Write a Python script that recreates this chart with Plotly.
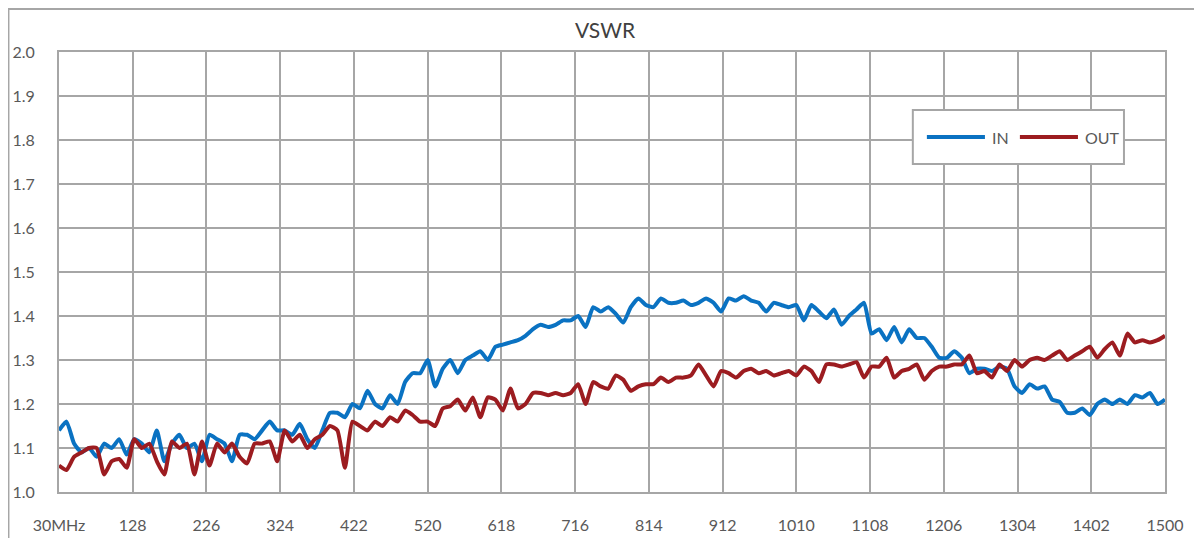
import plotly.graph_objects as go

freq_mhz = list(range(30, 1501, 10))

vswr_in = [
    1.14, 1.16, 1.11, 1.09, 1.10, 1.08, 1.11, 1.10, 1.12, 1.085,
    1.12, 1.11, 1.09, 1.14, 1.07, 1.11, 1.13, 1.10, 1.11, 1.07,
    1.13, 1.12, 1.11, 1.07, 1.13, 1.13, 1.12, 1.14, 1.16, 1.14,
    1.14, 1.13, 1.155, 1.12, 1.10, 1.14, 1.18, 1.18, 1.17, 1.20,
    1.19, 1.23, 1.20, 1.19, 1.22, 1.20, 1.25, 1.27, 1.27, 1.30,
    1.24, 1.28, 1.30, 1.27, 1.30, 1.31, 1.32, 1.30, 1.33, 1.335,
    1.34, 1.345, 1.355, 1.37, 1.38, 1.375, 1.38, 1.39, 1.39, 1.40,
    1.375, 1.42, 1.41, 1.42, 1.405, 1.385, 1.42, 1.44, 1.425, 1.42,
    1.44, 1.43, 1.43, 1.435, 1.425, 1.43, 1.44, 1.43, 1.41, 1.44,
    1.435, 1.445, 1.435, 1.43, 1.41, 1.43, 1.425, 1.42, 1.425, 1.39,
    1.425, 1.41, 1.395, 1.415, 1.38, 1.40, 1.415, 1.43, 1.36, 1.37,
    1.345, 1.375, 1.34, 1.37, 1.35, 1.35, 1.33, 1.305, 1.305, 1.32,
    1.305, 1.27, 1.28, 1.28, 1.275, 1.285, 1.28, 1.24, 1.225, 1.245,
    1.235, 1.24, 1.21, 1.205, 1.18, 1.18, 1.19, 1.175, 1.20, 1.21,
    1.20, 1.21, 1.20, 1.22, 1.215, 1.225, 1.20, 1.21,
]

vswr_out = [
    1.06, 1.05, 1.08, 1.09, 1.10, 1.10, 1.04, 1.07, 1.075, 1.055,
    1.12, 1.10, 1.11, 1.07, 1.04, 1.115, 1.10, 1.11, 1.04, 1.115,
    1.06, 1.11, 1.09, 1.11, 1.08, 1.065, 1.11, 1.11, 1.115, 1.07,
    1.14, 1.115, 1.13, 1.10, 1.12, 1.13, 1.15, 1.14, 1.055, 1.16,
    1.15, 1.14, 1.16, 1.15, 1.17, 1.16, 1.185, 1.175, 1.16, 1.16,
    1.15, 1.19, 1.195, 1.21, 1.185, 1.215, 1.17, 1.215, 1.21, 1.185,
    1.235, 1.19, 1.20, 1.225, 1.225, 1.22, 1.225, 1.22, 1.225, 1.245,
    1.20, 1.25, 1.24, 1.235, 1.265, 1.255, 1.23, 1.24, 1.245, 1.245,
    1.26, 1.25, 1.26, 1.26, 1.265, 1.29, 1.265, 1.24, 1.275, 1.27,
    1.26, 1.275, 1.28, 1.27, 1.275, 1.265, 1.27, 1.275, 1.265, 1.285,
    1.275, 1.25, 1.29, 1.29, 1.285, 1.29, 1.295, 1.26, 1.285, 1.285,
    1.305, 1.26, 1.275, 1.28, 1.29, 1.255, 1.275, 1.285, 1.285, 1.29,
    1.29, 1.31, 1.27, 1.275, 1.26, 1.29, 1.275, 1.30, 1.285, 1.30,
    1.305, 1.30, 1.31, 1.32, 1.30, 1.31, 1.32, 1.33, 1.305, 1.325,
    1.34, 1.31, 1.36, 1.34, 1.345, 1.34, 1.345, 1.355,
]

series_names = ["IN", "OUT"]
series_colors = ["#0A72C2", "#9C1C20"]

tick_vals = [30, 128, 226, 324, 422, 520, 618, 716, 814, 912, 1010, 1108, 1206, 1304, 1402, 1500]
tick_text = ["30MHz"] + [str(v) for v in tick_vals[1:]]

GRID = "#A6A6A6"
TEXT = "#595959"
FONT = "Lato, 'Open Sans', sans-serif"

fig = go.Figure()
for name, ys, col in zip(series_names, [vswr_in, vswr_out], series_colors):
    fig.add_trace(go.Scatter(x=freq_mhz, y=ys, mode="lines", name=name, showlegend=False,
                             line=dict(color=col, width=4, shape="spline", smoothing=0.5)))

# outer chart frame
fig.add_shape(type="rect", xref="paper", yref="paper",
              x0=-0.0457, x1=1.0317, y0=-0.2, y1=1.0977,
              line=dict(color=GRID, width=2), fillcolor="rgba(0,0,0,0)", layer="below")

# legend box (drawn by hand to match the reference layout)
fig.add_shape(type="rect", xref="paper", yref="paper",
              x0=0.7720, x1=0.9629, y0=0.7455, y1=0.8682,
              line=dict(color=GRID, width=2), fillcolor="white", layer="above")
leg_line_x = [(0.7847, 0.8372), (0.8688, 0.9213)]
leg_text_x = [0.8418, 0.9258]
leg_y = 0.8068
for name, col, (lx0, lx1), tx in zip(series_names, series_colors, leg_line_x, leg_text_x):
    fig.add_shape(type="line", xref="paper", yref="paper", x0=lx0, x1=lx1, y0=leg_y, y1=leg_y,
                  line=dict(color=col, width=4), layer="above")
    fig.add_annotation(xref="paper", yref="paper", x=tx, y=leg_y, text=name, showarrow=False,
                       xanchor="left", yanchor="middle",
                       font=dict(family=FONT, size=16, color=TEXT))

# the page body has an 8px default margin, so the figure is sized 8px smaller
fig.update_layout(
    width=1194, height=530,
    margin=dict(l=51, r=37, t=44, b=46, autoexpand=False),
    paper_bgcolor="white", plot_bgcolor="white",
    font=dict(family=FONT, size=15, color=TEXT),
    title=dict(text="VSWR", x=0.5, xanchor="center", y=0.958, yanchor="middle",
               font=dict(family=FONT, size=21, color="#404040")),
    showlegend=False,
)
fig.update_xaxes(range=[30, 1500], tickmode="array", tickvals=tick_vals, ticktext=tick_text,
                 tickfont=dict(size=16),
                 showgrid=True, gridcolor=GRID, gridwidth=2,
                 showline=True, linecolor=GRID, linewidth=2, mirror=True,
                 zeroline=False, ticks="", ticklabelstandoff=18, automargin=False)
fig.update_yaxes(range=[1.0, 2.0], dtick=0.1, tick0=1.0, tickformat=".1f",
                 tickfont=dict(size=16),
                 showgrid=True, gridcolor=GRID, gridwidth=2,
                 showline=True, linecolor=GRID, linewidth=2, mirror=True,
                 zeroline=False, ticks="", ticklabelstandoff=19, automargin=False)

fig.write_html("out.html")
